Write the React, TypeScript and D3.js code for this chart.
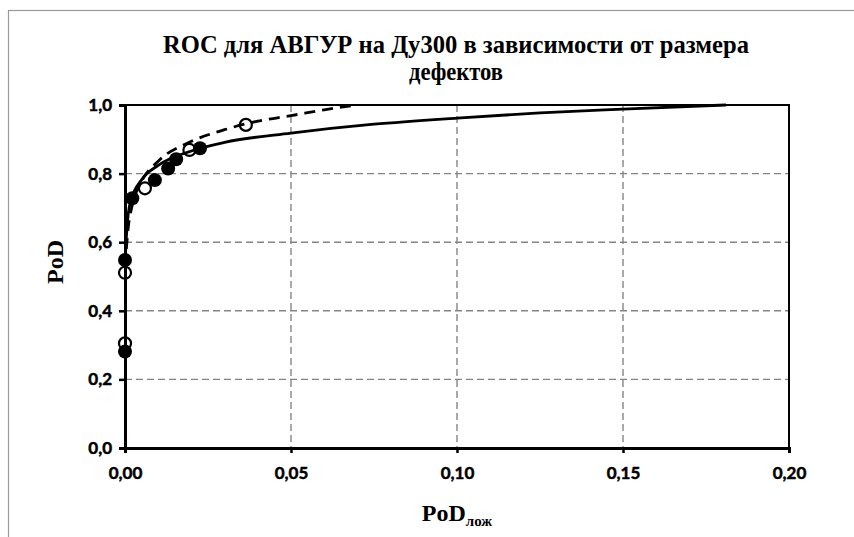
import React, { useRef, useEffect } from 'react';
import * as d3 from 'd3';

// Measured points (filled markers, solid trend) and (open markers, dashed trend)
const filledX = [0, 0, 0.0022, 0.009, 0.013, 0.0154, 0.0226];
const filledY = [0.548, 0.281, 0.728, 0.781, 0.815, 0.842, 0.874];
const openX = [0, 0, 0.006, 0.0194, 0.0364];
const openY = [0.511, 0.305, 0.757, 0.869, 0.942];

// Trend lines
const solidTrendX = [0.0003, 0.001, 0.002, 0.005, 0.01, 0.02, 0.03, 0.05, 0.075, 0.1, 0.125, 0.15, 0.181];
const solidTrendY = [0.6, 0.685, 0.727, 0.782, 0.824, 0.866, 0.891, 0.918, 0.944, 0.962, 0.977, 0.988, 1.0];
const dashTrendX = [0.0004, 0.001, 0.002, 0.005, 0.01, 0.02, 0.03, 0.04, 0.05, 0.06, 0.07];
const dashTrendY = [0.58, 0.645, 0.7, 0.777, 0.836, 0.894, 0.928, 0.953, 0.969, 0.986, 1.0];

const xTicks = [0, 0.05, 0.1, 0.15, 0.2];
const yTicks = [0, 0.2, 0.4, 0.6, 0.8, 1.0];
const titleLines = ['ROC для АВГУР  на Ду300 в зависимости от размера', 'дефектов'];

const App = () => {
  const svgRef = useRef(null);

  useEffect(() => {
    const svg = d3.select(svgRef.current);
    svg.selectAll('*').remove();

    const W = 854;
    const H = 537;
    const left = 125, right = 789, top = 105, bottom = 448;

    const x = d3.scaleLinear().domain([0, 0.2]).range([left, right]);
    const y = d3.scaleLinear().domain([0, 1]).range([bottom, top]);
    const fmtX = (d) => d3.format('.2f')(d).replace('.', ',');
    const fmtY = (d) => d3.format('.1f')(d).replace('.', ',');
    const serif = '"Liberation Serif", "Times New Roman", serif';

    svg.attr('width', W).attr('height', H);
    svg.append('rect').attr('width', W).attr('height', H).attr('fill', 'white');

    // outer chart frame
    svg.append('rect')
      .attr('x', 8.5).attr('y', 10.5)
      .attr('width', 1000).attr('height', 1000)
      .attr('fill', 'none')
      .attr('stroke', '#9a9a9a')
      .attr('stroke-width', 1.2);

    // title (two lines, slightly condensed like the original)
    const titleWidths = [586, 94];
    svg.selectAll('.title')
      .data(titleLines)
      .enter()
      .append('text')
      .attr('class', 'title')
      .attr('text-anchor', 'middle')
      .attr('x', 456)
      .attr('y', (d, i) => 53 + i * 27)
      .attr('textLength', (d, i) => titleWidths[i])
      .attr('lengthAdjust', 'spacingAndGlyphs')
      .style('font-family', serif)
      .style('font-weight', 'bold')
      .style('font-size', '25px')
      .style('fill', '#000')
      .text(d => d);

    // grid
    const grid = svg.append('g')
      .attr('stroke', '#858585')
      .attr('stroke-width', 1.4)
      .attr('stroke-dasharray', '7,4');
    grid.selectAll('.hy')
      .data(yTicks.filter(d => d > 0 && d < 1))
      .enter().append('line')
      .attr('x1', left).attr('x2', right)
      .attr('y1', d => y(d)).attr('y2', d => y(d));
    grid.selectAll('.vx')
      .data(xTicks.filter(d => d > 0 && d < 0.2))
      .enter().append('line')
      .attr('y1', top).attr('y2', bottom)
      .attr('x1', d => x(d)).attr('x2', d => x(d));

    // plot border top/right
    svg.append('path')
      .attr('d', `M${left},${top}H${right}V${bottom}`)
      .attr('fill', 'none')
      .attr('stroke', '#000')
      .attr('stroke-width', 2);

    // axes
    const yAxis = svg.append('g')
      .attr('transform', `translate(${left},0)`)
      .call(d3.axisLeft(y).tickValues(yTicks).tickFormat(fmtY).tickSize(6).tickPadding(7));
    const xAxis = svg.append('g')
      .attr('transform', `translate(0,${bottom})`)
      .call(d3.axisBottom(x).tickValues(xTicks).tickFormat(fmtX).tickSize(5).tickPadding(14));
    [xAxis, yAxis].forEach(a => {
      a.attr('font-family', 'Lato, sans-serif').attr('font-size', 17).attr('font-weight', 'bold');
      a.select('.domain').attr('stroke', '#000').attr('stroke-width', 3);
      a.selectAll('.tick line').attr('stroke', '#000').attr('stroke-width', 2.5);
      a.selectAll('.tick text')
        .attr('fill', '#000')
        .attr('stroke', '#000')
        .attr('stroke-width', 0.5)
        .style('font-family', 'Lato, sans-serif')
        .style('font-weight', '700')
        .style('font-size', '17px');
    });

    // axis labels
    svg.append('text')
      .attr('text-anchor', 'middle')
      .attr('transform', `translate(63,262) rotate(-90)`)
      .style('font-family', serif)
      .style('font-weight', 'bold')
      .style('font-size', '24px')
      .text('PoD');

    const xl = svg.append('text')
      .attr('text-anchor', 'middle')
      .attr('x', 457)
      .attr('y', 521)
      .style('font-family', serif)
      .style('font-weight', 'bold')
      .style('font-size', '24px');
    xl.append('tspan').text('PoD');
    xl.append('tspan').attr('dy', 5).style('font-size', '15px').text('лож');

    // trend lines
    const line = d3.line()
      .x(d => x(d[0]))
      .y(d => y(d[1]))
      .curve(d3.curveMonotoneX);

    svg.append('path')
      .datum(solidTrendX.map((v, i) => [v, solidTrendY[i]]))
      .attr('d', line)
      .attr('fill', 'none')
      .attr('stroke', '#000')
      .attr('stroke-width', 2.8);

    svg.append('path')
      .datum(dashTrendX.map((v, i) => [v, dashTrendY[i]]))
      .attr('d', line)
      .attr('fill', 'none')
      .attr('stroke', '#000')
      .attr('stroke-width', 2.8)
      .attr('stroke-dasharray', '11,7');

    // markers
    svg.selectAll('.filled')
      .data(filledX.map((v, i) => [v, filledY[i]]))
      .enter().append('circle')
      .attr('class', 'filled')
      .attr('cx', d => x(d[0]))
      .attr('cy', d => y(d[1]))
      .attr('r', 7)
      .attr('fill', '#000');

    svg.selectAll('.open')
      .data(openX.map((v, i) => [v, openY[i]]))
      .enter().append('circle')
      .attr('class', 'open')
      .attr('cx', d => x(d[0]))
      .attr('cy', d => y(d[1]))
      .attr('r', 6)
      .attr('fill', 'none')
      .attr('stroke', '#000')
      .attr('stroke-width', 2.2);
  }, []);

  return (
    <svg
      ref={svgRef}
      style={{ position: 'absolute', left: 0, top: 0, display: 'block' }}
    ></svg>
  );
};

export default App;
